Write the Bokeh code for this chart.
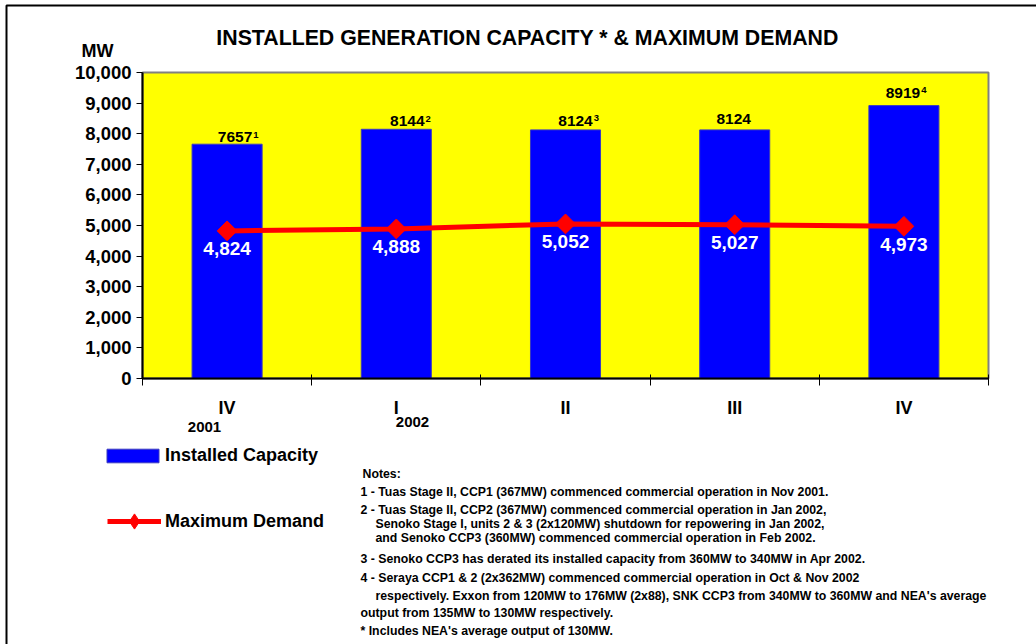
import math
from bokeh.plotting import figure
from bokeh.models import (FixedTicker, Label, Legend, LegendItem, ColumnDataSource,
                          Range1d, NumeralTickFormatter, LinearAxis)
from bokeh.core.properties import value
from bokeh.embed import file_html
from bokeh.resources import INLINE

# ---------------- data ----------------
quarters = ["IV", "I", "II", "III", "IV"]
years = ["2001", "2002"]
capacity = [7657, 8144, 8124, 8124, 8919]
capacity_notes = ["1", "2", "3", "", "4"]
demand = [4824, 4888, 5052, 5027, 4973]
y_ticks = [0, 1000, 2000, 3000, 4000, 5000, 6000, 7000, 8000, 9000, 10000]
notes = [
    "Notes:",
    "1 - Tuas Stage II, CCP1 (367MW) commenced commercial operation in Nov 2001.",
    "2 - Tuas Stage II, CCP2 (367MW) commenced commercial operation in Jan 2002,",
    "Senoko Stage I, units 2 & 3 (2x120MW) shutdown for repowering in Jan 2002,",
    "and Senoko CCP3 (360MW) commenced commercial operation in Feb 2002.",
    "3 - Senoko CCP3 has derated its installed capacity from 360MW to 340MW in Apr 2002.",
    "4 - Seraya CCP1 & 2 (2x362MW) commenced commercial operation in Oct & Nov 2002",
    "respectively. Exxon from 120MW to 176MW (2x88), SNK CCP3 from 340MW to 360MW and NEA's average",
    "output from 135MW to 130MW respectively.",
    "*  Includes NEA's average output of 130MW.",
]
title_text = "INSTALLED GENERATION CAPACITY * & MAXIMUM DEMAND"

# per-label nudges of the capacity labels (px), as placed in the original
cap_label_dx = [8, 11, 10, -1, -1]
cap_label_gap = [0, 1, 2, 4, 6]

FONT = "Liberation Sans"
W, H = 1036, 644
x = list(range(1, len(quarters) + 1))

# plot-area placement in canvas pixels
PL, PR, PT, PB = 142, 988, 72, 378
x_lo, x_hi = x[0] - 0.5, x[-1] + 0.5
y_lo, y_hi = y_ticks[0], y_ticks[-1]
kx = (x_hi - x_lo) / (PR - PL)
ky = (y_hi - y_lo) / (PB - PT)
x_range = Range1d(x_lo - PL * kx, x_hi + (W - PR) * kx)
y_range = Range1d(y_lo - (H - PB) * ky, y_hi + PT * ky)


def dx(px):
    return x_lo + (px - PL) * kx


def dy(py):
    return y_lo + (PB - py) * ky


CAP_FS = 15.5
half_digits = [len(str(c)) * 0.556 * CAP_FS / 2 for c in capacity]

src = ColumnDataSource(dict(
    x=x,
    capacity=capacity,
    cap_label=[str(c) for c in capacity],
    cap_note=capacity_notes,
    cap_dx=cap_label_dx,
    cap_dy=[-2 - g for g in cap_label_gap],
    sup_dx=[d + h + 1 for d, h in zip(cap_label_dx, half_digits)],
    sup_dy=[-2 - g - 4.5 for g in cap_label_gap],
    demand=demand,
    dem_label=[f"{d:,}" for d in demand],
))

p = figure(width=W, height=H, output_backend="svg", toolbar_location=None,
           x_range=x_range, y_range=y_range, x_axis_location=None, y_axis_location=None,
           min_border=0, title=None)
p.background_fill_color = "white"
p.border_fill_color = "white"
p.outline_line_color = None
p.xgrid.visible = False
p.ygrid.visible = False

# page frame (decorative)
p.quad(left=dx(6), right=dx(W + 20), top=dy(5), bottom=dy(H + 20),
       fill_color=None, line_color="black", line_width=2)

# plot area
p.quad(left=x_lo, right=x_hi, bottom=y_lo, top=y_hi,
       fill_color="#FFFF00", line_color="#808080", line_width=2)

# bars
bars = p.vbar(x="x", top="capacity", width=0.414, source=src,
              fill_color="#0000FF", line_color="#3a3ac0", line_width=1)
# line + markers
ln = p.line(x="x", y="demand", source=src, line_color="#FF0000", line_width=5)
# diamond used for the legend swatch; fully covered by the rotated squares below
mk_leg = p.scatter(x="x", y="demand", source=src, marker="diamond", size=15,
                   fill_color="#FF0000", line_color="#FF0000")
mk = p.scatter(x="x", y="demand", source=src, marker="square", angle=math.pi / 4,
               size=14, fill_color="#FF0000", line_color="#FF0000")

# data labels
p.text(x="x", y="capacity", text="cap_label", source=src, text_align="center",
       text_baseline="bottom", x_offset="cap_dx", y_offset="cap_dy",
       text_font=value(FONT), text_font_style="bold", text_font_size=f"{CAP_FS}px",
       text_color="black")
p.text(x="x", y="capacity", text="cap_note", source=src, text_align="left",
       text_baseline="bottom", x_offset="sup_dx", y_offset="sup_dy",
       text_font=value(FONT), text_font_style="bold", text_font_size="9.5px",
       text_color="black")
p.text(x="x", y="demand", text="dem_label", source=src, text_align="center",
       text_baseline="middle", y_offset=18,
       text_font=value(FONT), text_font_style="bold", text_font_size="19px",
       text_color="white")

# axes (drawn at fixed data locations)
ya = LinearAxis(fixed_location=x_lo, bounds=(y_lo, y_hi))
ya.ticker = FixedTicker(ticks=y_ticks)
ya.formatter = NumeralTickFormatter(format="0,0")
ya.axis_line_color = "black"
ya.axis_line_width = 2
ya.major_tick_out = 6
ya.major_tick_in = 0
ya.minor_tick_out = 0
ya.minor_tick_in = 0
ya.major_label_standoff = 5
ya.major_label_text_font = FONT
ya.major_label_text_font_style = "bold"
ya.major_label_text_font_size = "18.5px"
ya.major_label_text_color = "black"
p.add_layout(ya, "left")

xa = LinearAxis(fixed_location=y_lo, bounds=(x_lo, x_hi))
xa.ticker = FixedTicker(ticks=x, minor_ticks=[v - 0.5 for v in x] + [x[-1] + 0.5])
xa.major_label_overrides = {xi: q for xi, q in zip(x, quarters)}
xa.axis_line_color = "black"
xa.axis_line_width = 2
xa.major_tick_out = 0
xa.major_tick_in = 0
xa.minor_tick_out = 7
xa.minor_tick_in = 4
xa.minor_tick_line_color = "black"
xa.minor_tick_line_width = 1
xa.major_label_standoff = 12
xa.major_label_text_font = FONT
xa.major_label_text_font_style = "bold"
xa.major_label_text_font_size = "18px"
xa.major_label_text_color = "black"
p.add_layout(xa, "below")


def lab(text, px, py, size, align="left", color="black"):
    p.add_layout(Label(x=px, y=H - py, x_units="screen", y_units="screen",
                       text=text, text_align=align, text_baseline="middle",
                       text_font=FONT, text_font_style="bold",
                       text_font_size=f"{size}px", text_color=color))


lab(title_text, 527, 37, 21.3, align="center")
lab("MW", 97, 50, 18, align="center")
lab(years[0], 204, 426, 15, align="center")
lab(years[1], 412, 421, 15, align="center")

note_pos = [(362, 473), (360, 491), (360, 509), (375, 523), (375, 537),
            (360, 558), (360, 577), (375, 595), (360, 612), (360, 630)]
for t, (nx, ny) in zip(notes, note_pos):
    lab(t, nx, ny, 12.3)

leg_font = dict(label_text_font=FONT, label_text_font_style="bold",
                label_text_font_size="18px", label_text_color="black",
                border_line_color=None, background_fill_alpha=0,
                padding=0, margin=0)
legend_a = Legend(items=[LegendItem(label="Installed Capacity", renderers=[bars])],
                  location=(100, H - 466), glyph_width=65, glyph_height=17,
                  label_standoff=0, **leg_font)
legend_b = Legend(items=[LegendItem(label="Maximum Demand", renderers=[ln, mk_leg])],
                  location=(107, H - 540), glyph_width=54, glyph_height=38,
                  label_standoff=4, **leg_font)
p.add_layout(legend_a, "center")
p.add_layout(legend_b, "center")

open("out.html", "w").write(file_html(p, INLINE))
